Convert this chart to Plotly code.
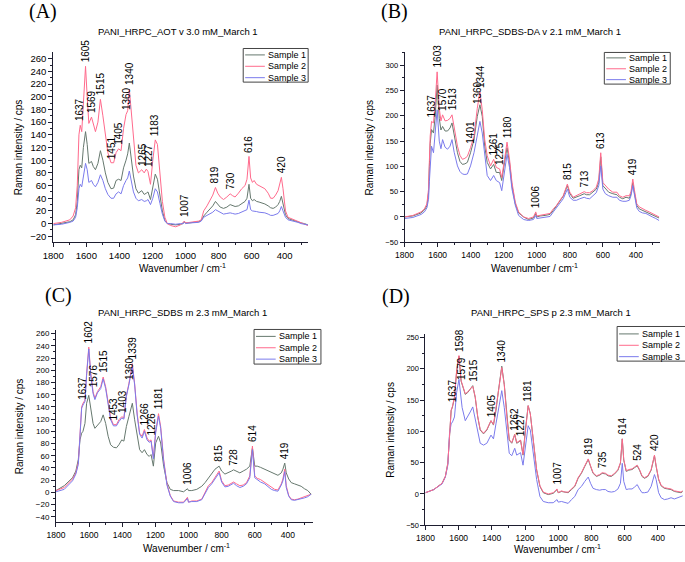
import numpy as np
import plotly.graph_objects as go

W, H = 685, 562


def px(x):
    return x / W


def py(y):
    return 1 - y / H


# ---------------- data ----------------
wn_a = [1800, 1750, 1700, 1680, 1665, 1655, 1645, 1637, 1628, 1618,
        1605, 1595, 1585, 1569, 1558, 1545, 1530, 1515, 1500, 1485,
        1470, 1451, 1435, 1420, 1405, 1390, 1375, 1360, 1350, 1340,
        1328, 1315, 1300, 1285, 1265, 1250, 1237, 1227, 1212, 1198,
        1183, 1170, 1155, 1140, 1125, 1110, 1090, 1060, 1030, 1015,
        1007, 1000, 980, 950, 920, 905, 890, 870, 850, 835,
        819, 805, 790, 770, 750, 730, 715, 700, 680, 660,
        640, 628, 616, 606, 595, 585, 570, 555, 540, 520,
        500, 485, 470, 455, 440, 430, 420, 410, 395, 380,
        360, 340, 320, 300, 280, 260]
a_s1 = [-2, 0, 3, 6, 14, 35, 85, 92, 88, 120,
        145, 125, 95, 98, 90, 85, 95, 115, 100, 80,
        65, 55, 56, 68, 70, 68, 88, 100, 110, 127,
        100, 75, 55, 48, 52, 46, 48, 50, 38, 58,
        78, 70, 45, 20, 5, 0, -1, -2, -1, 0,
        3, 1, 1, 2, 3, 5, 12, 18, 24, 28,
        35, 30, 26, 24, 26, 30, 28, 27, 28, 32,
        35, 40, 62, 40, 36, 38, 35, 34, 33, 31,
        28, 25, 24, 26, 30, 35, 43, 32, 14, 8,
        6, 4, 3, 1, 0, -2]
a_s2 = [0, 2, 6, 12, 25, 60, 140, 155, 145, 190,
        248, 200, 158, 168, 158, 145, 160, 196, 170, 140,
        112, 96, 96, 112, 118, 115, 150, 172, 178, 212,
        175, 130, 92, 80, 85, 80, 86, 82, 62, 100,
        132, 125, 80, 35, 10, 0, -3, -5, -2, 1,
        4, 1, 2, 3, 4, 6, 20, 28, 38, 45,
        57, 48, 42, 38, 42, 47, 44, 42, 48, 55,
        60, 70, 106, 72, 65, 68, 62, 60, 58, 55,
        48, 40, 40, 45, 52, 62, 73, 55, 20, 10,
        8, 5, 3, 1, -1, -3]
a_s3 = [-2, -1, 2, 4, 10, 25, 55, 62, 58, 78,
        95, 85, 65, 68, 62, 58, 65, 77, 68, 55,
        46, 40, 40, 47, 50, 47, 60, 68, 72, 83,
        68, 50, 40, 36, 38, 35, 36, 38, 30, 40,
        55, 50, 32, 15, 4, 0, 0, -1, 0, 0,
        2, 0, 1, 2, 2, 4, 10, 13, 16, 18,
        22, 20, 17, 15, 16, 17, 16, 15, 16, 18,
        20, 22, 37, 22, 20, 20, 19, 18, 18, 17,
        15, 13, 13, 14, 16, 20, 27, 20, 10, 6,
        5, 3, 2, 0, -1, -2]
peaks_a = ["1637", "1605", "1569", "1515", "1451", "1405", "1360", "1340",
           "1265", "1227", "1183", "1007", "819", "730", "616", "420"]

wn_b = [1800, 1750, 1700, 1680, 1665, 1655, 1650, 1645, 1637, 1625,
        1615, 1603, 1590, 1580, 1570, 1555, 1540, 1525, 1513, 1500,
        1480, 1465, 1450, 1435, 1420, 1401, 1380, 1360, 1344, 1330,
        1315, 1300, 1280, 1261, 1245, 1225, 1212, 1195, 1180, 1165,
        1150, 1130, 1110, 1080, 1050, 1020, 1006, 1000, 980, 950,
        920, 900, 880, 860, 840, 815, 800, 780, 760, 740,
        713, 700, 680, 660, 640, 625, 613, 600, 585, 565,
        540, 515, 500, 480, 460, 440, 430, 419, 410, 395,
        380, 360, 340, 320, 300, 280, 260]
b_s1 = [0, 2, 8, 14, 22, 48, 100, 145, 173, 166,
        199, 261, 195, 172, 179, 170, 170, 176, 186, 160,
        127, 110, 104, 105, 108, 127, 153, 199, 222, 199,
        140, 108, 95, 104, 88, 88, 72, 108, 137, 108,
        62, 26, 8, 0, -5, -2, 7, 0, 2, 3,
        5, 13, 22, 31, 41, 62, 46, 37, 39, 42,
        46, 44, 44, 49, 55, 68, 119, 62, 57, 49,
        46, 44, 39, 36, 39, 37, 46, 68, 49, 23,
        16, 13, 10, 8, 5, 2, -2]
b_s2 = [0, 3, 10, 16, 26, 55, 110, 160, 189, 186,
        225, 287, 215, 190, 202, 190, 191, 195, 202, 175,
        140, 122, 114, 116, 120, 137, 160, 215, 248, 212,
        153, 121, 101, 114, 98, 95, 78, 114, 148, 114,
        68, 29, 10, 0, -3, 0, 10, 2, 3, 5,
        7, 16, 23, 33, 42, 65, 49, 39, 42, 46,
        50, 48, 48, 52, 59, 75, 127, 68, 62, 55,
        49, 49, 42, 39, 42, 42, 50, 75, 55, 26,
        20, 16, 13, 10, 7, 3, 0]
b_s3 = [-3, -1, 5, 10, 18, 35, 70, 110, 140, 127,
        166, 212, 150, 135, 153, 138, 134, 140, 153, 128,
        101, 90, 85, 84, 85, 101, 127, 166, 189, 166,
        120, 82, 72, 82, 72, 68, 52, 95, 124, 98,
        55, 23, 3, -5, -7, -5, 3, -3, -2, 0,
        1, 10, 18, 26, 36, 55, 39, 33, 33, 36,
        39, 37, 36, 42, 48, 62, 101, 55, 46, 42,
        39, 39, 33, 31, 31, 33, 42, 62, 42, 18,
        11, 8, 7, 3, 0, -3, -7]
peaks_b = ["1637", "1603", "1570", "1513", "1401", "1360", "1344", "1261",
           "1225", "1180", "1006", "815", "713", "613", "419"]

wn_c = [1800, 1750, 1700, 1680, 1665, 1655, 1645, 1637, 1625, 1615,
        1602, 1590, 1576, 1565, 1550, 1530, 1515, 1500, 1485, 1470,
        1453, 1435, 1420, 1403, 1390, 1375, 1360, 1339, 1325, 1310,
        1295, 1280, 1266, 1250, 1237, 1226, 1212, 1198, 1181, 1168,
        1150, 1130, 1110, 1090, 1060, 1030, 1006, 1000, 980, 950,
        920, 900, 880, 860, 840, 815, 800, 780, 760, 740,
        728, 710, 690, 670, 650, 630, 614, 600, 585, 565,
        540, 520, 500, 480, 460, 440, 430, 419, 410, 395,
        380, 360, 340, 320, 300, 280, 260]
c_s1 = [3, 11, 24, 35, 54, 86, 97, 100, 113, 146,
        159, 135, 113, 105, 110, 116, 127, 113, 92, 78,
        74, 73, 78, 86, 84, 108, 124, 146, 119, 92,
        70, 65, 70, 62, 59, 62, 43, 81, 92, 81,
        43, 16, 5, 3, 3, 1, 6, 3, 3, 5,
        10, 16, 24, 32, 38, 43, 35, 30, 32, 35,
        37, 34, 32, 35, 38, 43, 73, 43, 43, 41,
        38, 35, 32, 30, 28, 32, 38, 48, 32, 22,
        16, 14, 12, 10, 6, 3, -3]
c_s2 = [3, 8, 22, 32, 49, 92, 140, 146, 151, 195,
        238, 195, 165, 154, 165, 173, 189, 173, 146, 122,
        111, 111, 119, 124, 122, 159, 178, 211, 178, 130,
        97, 92, 103, 89, 84, 86, 57, 100, 129, 108,
        54, 14, -5, -14, -16, -16, -8, -16, -14, -14,
        -11, 0, 11, 16, 24, 35, 19, 11, 12, 16,
        17, 14, 11, 12, 16, 27, 76, 27, 23, 21,
        16, 12, 8, 5, 4, 14, 22, 38, 11, -5,
        -11, -12, -11, -9, -8, -6, -3]
c_s3 = [1, 5, 19, 30, 46, 89, 138, 143, 149, 192,
        235, 192, 162, 152, 163, 170, 186, 170, 143, 119,
        109, 109, 116, 122, 120, 157, 176, 206, 176, 127,
        95, 89, 100, 86, 82, 84, 55, 98, 125, 105,
        51, 12, -6, -15, -17, -17, -10, -16, -15, -15,
        -12, -1, 8, 14, 22, 32, 17, 9, 10, 14,
        15, 11, 8, 10, 14, 24, 70, 24, 21, 17,
        14, 10, 5, 3, 2, 12, 19, 34, 8, -6,
        -12, -13, -12, -10, -9, -7, -3]
peaks_c = ["1637", "1602", "1576", "1515", "1453", "1403", "1360", "1339",
           "1266", "1226", "1181", "1006", "815", "728", "614", "419"]

wn_d = [1800, 1750, 1700, 1680, 1665, 1655, 1645, 1637, 1625, 1612,
        1598, 1585, 1579, 1560, 1545, 1530, 1515, 1500, 1485, 1470,
        1450, 1430, 1405, 1390, 1375, 1360, 1340, 1325, 1310, 1295,
        1280, 1262, 1250, 1237, 1227, 1212, 1198, 1181, 1168, 1150,
        1130, 1110, 1090, 1060, 1030, 1007, 1000, 980, 960, 940,
        920, 900, 880, 860, 840, 819, 805, 790, 770, 750,
        735, 715, 700, 680, 660, 640, 625, 614, 605, 590,
        575, 555, 540, 524, 510, 495, 480, 460, 440, 420,
        410, 395, 380, 360, 340, 320, 300, 280, 260, 250]
d_s1 = [2, 7, 17, 28, 49, 102, 133, 139, 154, 196,
        220, 180, 175, 159, 162, 167, 173, 154, 123, 102,
        96, 102, 117, 110, 133, 165, 204, 175, 123, 86,
        81, 95, 81, 83, 86, 62, 102, 141, 128, 86,
        38, 12, 2, -1, 1, 7, 2, 4, 3, 2,
        7, 12, 25, 33, 44, 55, 44, 33, 28, 30,
        33, 32, 29, 28, 32, 38, 49, 88, 54, 36,
        38, 39, 42, 45, 38, 28, 25, 28, 38, 61,
        44, 23, 13, 9, 8, 7, 4, 3, 2, 4]
d_s2 = [2, 7, 17, 28, 49, 102, 134, 140, 155, 197,
        221, 181, 175, 160, 163, 168, 172, 155, 124, 103,
        97, 103, 117, 111, 134, 164, 202, 174, 124, 87,
        82, 95, 82, 84, 86, 63, 103, 141, 128, 87,
        39, 13, 3, 0, 2, 8, 2, 5, 3, 3,
        8, 13, 26, 34, 45, 56, 45, 34, 29, 31,
        34, 33, 30, 29, 33, 39, 50, 88, 55, 37,
        39, 40, 43, 46, 39, 29, 26, 29, 39, 62,
        45, 24, 14, 10, 9, 8, 5, 4, 3, 5]
d_s3 = [2, 7, 16, 27, 46, 96, 112, 115, 123, 162,
        183, 149, 138, 117, 123, 131, 139, 120, 96, 81,
        78, 81, 94, 88, 112, 138, 165, 138, 96, 65,
        61, 73, 62, 65, 66, 46, 75, 109, 102, 60,
        23, -4, -12, -14, -14, -9, -13, -12, -14, -15,
        -9, -4, 7, 12, 20, 27, 17, 9, 7, 6,
        7, 7, 4, 3, 4, 8, 17, 49, 20, 7,
        8, 8, 11, 15, 8, 2, 2, 3, 12, 31,
        23, 2, -6, -9, -8, -6, -8, -6, -4, -3]
peaks_d = ["1637", "1598", "1579", "1515", "1405", "1340", "1262", "1227",
           "1181", "1007", "819", "735", "614", "524", "420"]

sample_names = ["Sample 1", "Sample 2", "Sample 3"]
titles = ["PANI_HRPC_AOT v 3.0 mM_March 1",
          "PANI_HRPC_SDBS-DA v 2.1 mM_March 1",
          "PANI_HRPC_SDBS m 2.3 mM_March 1",
          "PANI_HRPC_SPS p 2.3 mM_March 1"]
letters = ["(A)", "(B)", "(C)", "(D)"]

# ---------------- styling / layout ----------------
COLORS = ["#66786e", "#ff6a8c", "#7b7bec"]
FONT = "Arial, Liberation Sans, sans-serif"
AXC = "#1e1e30"

panels = [
    dict(wn=wn_a, s=[a_s1, a_s2, a_s3], peaks=peaks_a, xa="x", ya="y",
         xdom=(43, 302), ydom=(52, 244), xr=(1800, 258), yr=(-29.6, 269.9),
         ydt=20, yminor=10, xfs=9.5, yfs=9.5,
         title_xy=(170, 31), letter_xy=(33, 11), xt_y=270, yt_x=8,
         leg=(236, 48, 302, 82), leg_rows=(54.5, 66, 77.5), order=[0, 1, 2]),
    dict(wn=wn_b, s=[b_s1, b_s2, b_s3], peaks=peaks_b, xa="x2", ya="y2",
         xdom=(400, 660), ydom=(52, 244), xr=(1800, 252), yr=(-50.3, 325.4),
         ydt=50, yminor=25, xfs=8.5, yfs=7.5,
         title_xy=(527, 31), letter_xy=(390, 11), xt_y=270, yt_x=364,
         leg=(603, 52, 670, 84), leg_rows=(57.5, 68.5, 79.5), order=[0, 1, 2]),
    dict(wn=wn_c, s=[c_s1, c_s2, c_s3], peaks=peaks_c, xa="x3", ya="y3",
         xdom=(45.7, 307), ydom=(333, 527), xr=(1800, 248), yr=(-49.1, 265.3),
         ydt=20, yminor=10, xfs=8.5, yfs=8,
         title_xy=(174, 315), letter_xy=(48, 298), xt_y=553, yt_x=9,
         leg=(247, 332, 315, 367), leg_rows=(339, 350.5, 362), order=[0, 1, 2]),
    dict(wn=wn_d, s=[d_s1, d_s2, d_s3], peaks=peaks_d, xa="x4", ya="y4",
         xdom=(421.2, 685), ydom=(337, 530), xr=(1800, 236), yr=(-50.1, 254.8),
         ydt=50, yminor=25, xfs=8.5, yfs=7.5,
         title_xy=(549, 315), letter_xy=(391, 299), xt_y=554, yt_x=386,
         leg=(616, 329, 690, 364), leg_rows=(336.5, 348, 359.5), order=[0, 2, 1]),
]

fig = go.Figure()
layout = dict(width=W, height=H, margin=dict(l=0, r=0, t=0, b=0),
              paper_bgcolor="white", plot_bgcolor="white", showlegend=False,
              font=dict(family=FONT, color="black"))
annotations = []
shapes = []

for i, p in enumerate(panels):
    assert len(p["wn"]) == len(p["s"][0]) == len(p["s"][1]) == len(p["s"][2])
    for k in p["order"]:
        fig.add_trace(go.Scatter(x=p["wn"], y=p["s"][k], mode="lines",
                                 name=sample_names[k], xaxis=p["xa"], yaxis=p["ya"],
                                 line=dict(color=COLORS[k], width=1)))
    xkey = "xaxis" + ("" if i == 0 else str(i + 1))
    ykey = "yaxis" + ("" if i == 0 else str(i + 1))
    x0, x1 = p["xdom"]
    y0, y1 = p["ydom"]
    layout[xkey] = dict(domain=[px(x0), px(x1)], range=list(p["xr"]), anchor=p["ya"],
                        showline=True, linecolor=AXC, linewidth=1, mirror=False,
                        ticks="outside", ticklen=4, tickwidth=1, tickcolor=AXC,
                        tickmode="linear", tick0=0, dtick=200,
                        minor=dict(ticks="outside", ticklen=2, tickcolor=AXC, dtick=100, tick0=0),
                        showgrid=False, zeroline=False,
                        tickfont=dict(size=p["xfs"], family=FONT))
    layout[ykey] = dict(domain=[py(y1), py(y0)], range=list(p["yr"]), anchor=p["xa"],
                        showline=True, linecolor=AXC, linewidth=1,
                        ticks="outside", ticklen=4, tickwidth=1, tickcolor=AXC,
                        tickmode="linear", tick0=0, dtick=p["ydt"],
                        minor=dict(ticks="outside", ticklen=2, tickcolor=AXC,
                                   dtick=p["yminor"], tick0=0),
                        showgrid=False, zeroline=False,
                        tickfont=dict(size=p["yfs"], family=FONT))
    # axis titles
    annotations.append(dict(xref="paper", yref="paper", x=px((x0 + x1) / 2 + 2), y=py(p["xt_y"]),
                            text="Wavenumber / cm<sup>-1</sup>", showarrow=False,
                            font=dict(size=10, family=FONT), xanchor="center", yanchor="middle"))
    annotations.append(dict(xref="paper", yref="paper", x=px(p["yt_x"]), y=py((y0 + y1) / 2),
                            text="Raman intensity / cps", showarrow=False, textangle=-90,
                            font=dict(size=10, family=FONT), xanchor="center", yanchor="middle"))
    # panel title and letter
    annotations.append(dict(xref="paper", yref="paper", x=px(p["title_xy"][0]), y=py(p["title_xy"][1]),
                            text=titles[i], showarrow=False, font=dict(size=9.5, family=FONT),
                            xanchor="center", yanchor="middle"))
    annotations.append(dict(xref="paper", yref="paper", x=px(p["letter_xy"][0]), y=py(p["letter_xy"][1]),
                            text=letters[i], showarrow=False,
                            font=dict(size=20, family="Liberation Serif, Times New Roman, serif"),
                            xanchor="center", yanchor="middle"))
    # peak labels placed just above the highest curve at each labelled wavenumber
    wn_arr = np.array(p["wn"], dtype=float)[::-1]
    top = np.max(np.array(p["s"], dtype=float), axis=0)[::-1]
    for lab in p["peaks"]:
        v = float(lab)
        yv = float(np.interp(v, wn_arr, top))
        annotations.append(dict(xref=p["xa"], yref=p["ya"], x=v, y=yv, text=lab,
                                showarrow=False, textangle=-90, yshift=3,
                                font=dict(size=10, family=FONT),
                                xanchor="center", yanchor="bottom", borderpad=0))
    # legend box
    lx0, ly0, lx1, ly1 = p["leg"]
    shapes.append(dict(type="rect", xref="paper", yref="paper",
                       x0=px(lx0), x1=px(lx1), y0=py(ly1), y1=py(ly0),
                       line=dict(color="#444444", width=1), fillcolor="white", layer="above"))
    for k in range(3):
        ry = p["leg_rows"][k]
        shapes.append(dict(type="line", xref="paper", yref="paper",
                           x0=px(lx0 + 2), x1=px(lx0 + 22), y0=py(ry), y1=py(ry),
                           line=dict(color=COLORS[k], width=1), layer="above"))
        annotations.append(dict(xref="paper", yref="paper", x=px(lx0 + 24), y=py(ry),
                                text=sample_names[k], showarrow=False,
                                font=dict(size=9, family=FONT), borderpad=0,
                                xanchor="left", yanchor="middle"))

layout["annotations"] = annotations
layout["shapes"] = shapes
fig.update_layout(**layout)
fig.write_html("out.html", config={"displayModeBar": False},
               post_script="document.body.style.margin='0';document.body.style.overflow='hidden';")
